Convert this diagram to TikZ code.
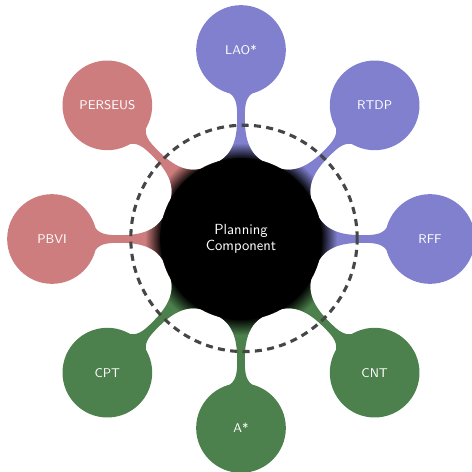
\documentclass[tikz,border=0pt]{standalone}
\usetikzlibrary{mindmap,trees,fadings}
\definecolor{cblue}{RGB}{128,128,206}
\definecolor{cred}{RGB}{205,125,125}
\definecolor{cgreen}{RGB}{76,128,76}
\definecolor{dashgray}{RGB}{70,70,70}
\pgfdeclareradialshading{rootfadeshade}{\pgfpointorigin}{color(0bp)=(white); color(56.5bp)=(white); color(68bp)=(black); color(200bp)=(black)}
\pgfdeclarefading{rootfade}{\pgfuseshading{rootfadeshade}}
\tikzset{
  rootstyle/.style={concept, minimum size=4cm, text width=3.4cm, align=center,
    font=\sffamily\fontsize{10.4}{11.2}\selectfont},
  leafstyle/.style={concept, minimum size=2.2cm, text width=2cm, align=center,
    font=\sffamily\fontsize{9}{11}\selectfont},
  ringstyle/.style={draw=dashgray, line width=2.2pt, dash pattern=on 5pt off 3.8pt},
  mapstyle/.style={mindmap, text=white,
    level 1/.append style={level distance=4.725cm, sibling angle=45},
    level 1 concept/.append style={minimum size=2.2cm}}
}
\begin{document}
\begin{tikzpicture}
\useasboundingbox (-6.025,-5.825) rectangle (5.775,5.975);
% coloured concepts with solid bars
\path[mapstyle, concept color=cblue]
  node[rootstyle, fill=none] (hubb) at (0,0) {}
  [clockwise from=90]
  child {node[leafstyle] (lao) {LAO*}}
  child {node[leafstyle] (rtdp) {RTDP}}
  child {node[leafstyle] (rff) {RFF}};
\path[mapstyle, concept color=cgreen]
  node[rootstyle, fill=none] (hubg) at (0,0) {}
  [clockwise from=-45]
  child {node[leafstyle] (cnt) {CNT}}
  child {node[leafstyle] (astar) {A*}}
  child {node[leafstyle] (cpt) {CPT}};
\path[mapstyle, concept color=cred]
  node[rootstyle, fill=none] (hubr) at (0,0) {}
  [clockwise from=180]
  child {node[leafstyle] (pbvi) {PBVI}}
  child {node[leafstyle] (perseus) {PERSEUS}};
% black root with a dark fade into the bars
\begin{scope}
\pgfsetfading{rootfade}{}
\path[mapstyle, concept color=black]
  node[rootstyle] (root) at (0,0) {Planning\\Component}
  [clockwise from=90]
  child {node[leafstyle, fill=none] (s1) {}}
  child {node[leafstyle, fill=none] (s2) {}}
  child {node[leafstyle, fill=none] (s3) {}}
  child {node[leafstyle, fill=none] (s4) {}}
  child {node[leafstyle, fill=none] (s5) {}}
  child {node[leafstyle, fill=none] (s6) {}}
  child {node[leafstyle, fill=none] (s7) {}}
  child {node[leafstyle, fill=none] (s8) {}};
\end{scope}
\draw[ringstyle] ([shift={(0.075,0.015)}]root.center) circle (2.83cm);
\end{tikzpicture}
\end{document}
